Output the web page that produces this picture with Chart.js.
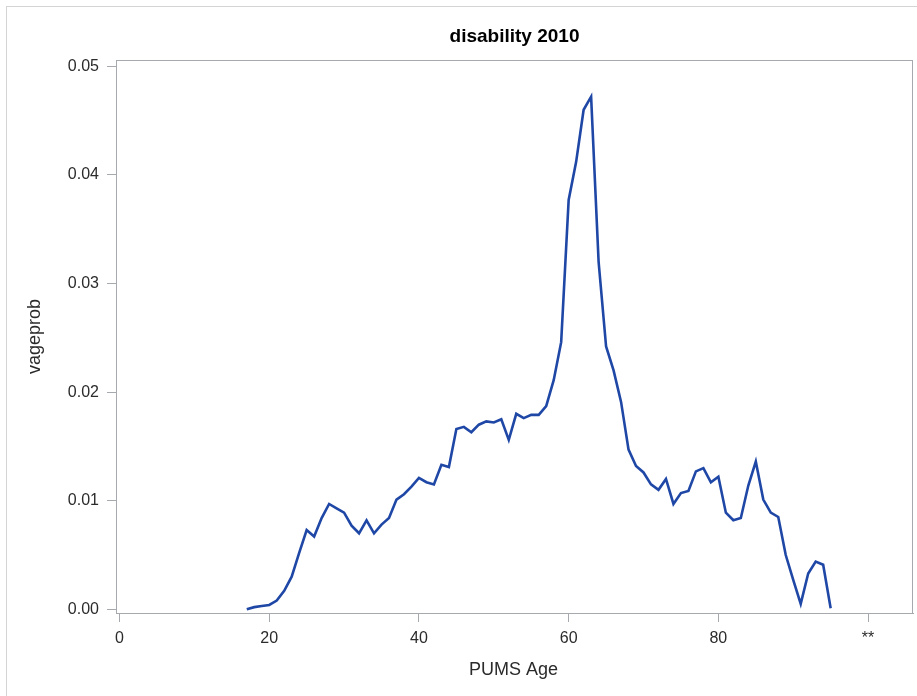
<!DOCTYPE html>
<html>
<head>
<meta charset="utf-8">
<script src="https://cdn.jsdelivr.net/npm/chart.js@4.4.1/dist/chart.umd.min.js"></script>
<style>
  html, body { margin: 0; padding: 0; background: #fff; overflow: hidden; }
  #wrap { position: relative; width: 917px; height: 696px; }
  #frame { position: absolute; left: 6px; top: 6px; width: 930px; height: 720px; border: 1px solid #d4d4d4; box-sizing: border-box; }
  canvas { position: absolute; left: 0; top: 0; }
</style>
</head>
<body>
<div id="wrap">
  <div id="frame"></div>
  <canvas id="c" width="917" height="696"></canvas>
</div>
<script>
const chartTitle = "disability 2010";
const xTitle = "PUMS Age";
const yTitle = "vageprob";

const ages = [17,18,19,20,21,22,23,24,25,26,27,28,29,30,31,32,33,34,35,36,37,38,39,40,
  41,42,43,44,45,46,47,48,49,50,51,52,53,54,55,56,57,58,59,60,61,62,63,64,65,66,67,68,69,70,
  71,72,73,74,75,76,77,78,79,80,81,82,83,84,85,86,87,88,89,90,91,92,93,94,95];

const vageprob = [0.0000,0.0002,0.0003,0.0004,0.0008,0.0017,0.0030,0.0052,0.0073,0.0067,
  0.0084,0.0097,0.0093,0.0089,0.0077,0.0070,0.0082,0.0070,0.0078,0.0084,
  0.0101,0.0106,0.0113,0.0121,0.0117,0.0115,0.0133,0.0131,0.0166,0.0168,
  0.0163,0.0170,0.0173,0.0172,0.0175,0.0156,0.0180,0.0176,0.0179,0.0179,
  0.0187,0.0211,0.0246,0.0377,0.0412,0.0460,0.0472,0.0320,0.0242,0.0220,
  0.0191,0.0147,0.0132,0.0126,0.0115,0.0110,0.0120,0.0097,0.0107,0.0109,
  0.0127,0.0130,0.0117,0.0122,0.0089,0.0082,0.0084,0.0114,0.0136,0.0101,
  0.0089,0.0085,0.0050,0.0027,0.0005,0.0033,0.0044,0.0041,0.0001];

const xTickValues = [0, 20, 40, 60, 80, 100];
const xTickLabels = ["0", "20", "40", "60", "80", "**"];
const yTickValues = [0, 0.01, 0.02, 0.03, 0.04, 0.05];
const yTickLabels = ["0.00", "0.01", "0.02", "0.03", "0.04", "0.05"];

const axisColor = '#a6aaae';
const textColor = '#2b2b2b';
const FONT = "'Liberation Sans', Arial, sans-serif";

const points = ages.map((a, i) => ({ x: a, y: vageprob[i] }));

const decor = {
  id: 'decor',
  afterDraw(chart) {
    const ctx = chart.ctx;
    const a = chart.chartArea;
    ctx.save();
    ctx.strokeStyle = axisColor;
    ctx.lineWidth = 1;
    ctx.strokeRect(Math.round(a.left) + 0.5, Math.round(a.top) + 0.5,
                   Math.round(a.right - a.left) - 1, Math.round(a.bottom - a.top));
    ctx.fillStyle = '#000';
    ctx.font = "bold 19px " + FONT;
    ctx.textAlign = 'center';
    ctx.textBaseline = 'alphabetic';
    ctx.fillText(chartTitle, (a.left + a.right) / 2, 42);
    ctx.fillStyle = textColor;
    ctx.font = "18px " + FONT;
    ctx.fillText(xTitle, (a.left + a.right) / 2 - 1, 675);
    ctx.translate(40, (a.top + a.bottom) / 2);
    ctx.rotate(-Math.PI / 2);
    ctx.fillText(yTitle, 0, 0);
    ctx.restore();
  }
};

new Chart(document.getElementById('c'), {
  type: 'line',
  data: {
    datasets: [{
      data: points,
      borderColor: '#1f47a6',
      borderWidth: 2.6,
      pointRadius: 0,
      tension: 0,
      fill: false
    }]
  },
  options: {
    responsive: false,
    animation: false,
    layout: { padding: { top: 60, right: 4, left: 0, bottom: 0 } },
    plugins: { legend: { display: false }, title: { display: false }, tooltip: { enabled: false } },
    scales: {
      x: {
        type: 'linear',
        min: -0.47,
        max: 106.0,
        afterFit(s) { s.height = 83; },
        afterBuildTicks(s) { s.ticks = xTickValues.map(v => ({ value: v })); },
        grid: { drawOnChartArea: false, drawTicks: true, tickLength: 9, color: axisColor },
        border: { display: true, color: axisColor },
        ticks: {
          autoSkip: false, maxRotation: 0, padding: 7, color: textColor,
          font: { family: FONT, size: 16 },
          callback(v) { const i = xTickValues.indexOf(v); return i >= 0 ? xTickLabels[i] : ''; }
        }
      },
      y: {
        type: 'linear',
        min: -0.00034,
        max: 0.05058,
        afterFit(s) { s.width = 116; },
        afterBuildTicks(s) { s.ticks = yTickValues.map(v => ({ value: v })); },
        grid: { drawOnChartArea: false, drawTicks: true, tickLength: 9, color: axisColor },
        border: { display: true, color: axisColor },
        ticks: {
          autoSkip: false, padding: 8, color: textColor,
          font: { family: FONT, size: 16 },
          callback(v) { const i = yTickValues.findIndex(t => Math.abs(t - v) < 1e-9); return i >= 0 ? yTickLabels[i] : ''; }
        }
      }
    }
  },
  plugins: [decor]
});
</script>
</body>
</html>
